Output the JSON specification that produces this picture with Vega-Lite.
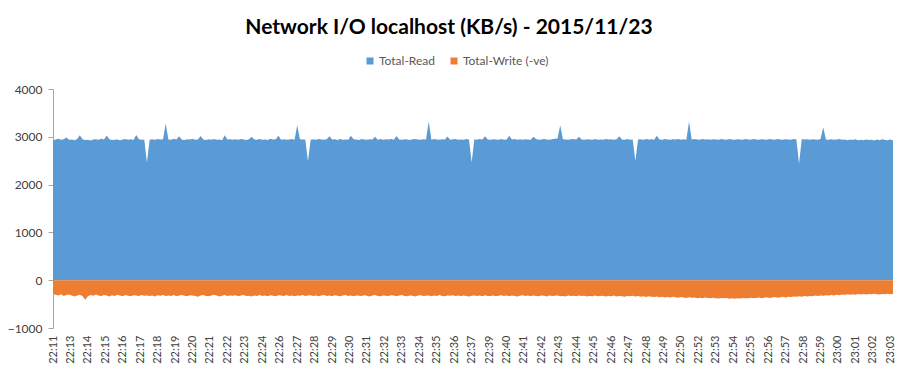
{
  "$schema": "https://vega.github.io/schema/vega-lite/v6.json",
  "width": 840,
  "height": 239,
  "autosize": {"type": "none"},
  "padding": {"left": 53, "top": 89, "right": 18, "bottom": 52},
  "background": "white",
  "config": {"view": {"stroke": null}, "font": "Lato"},
  "title": {"text": "Network I/O localhost (KB/s) - 2015/11/23", "anchor": "middle", "frame": "group", "dx": -24, "offset": 17, "fontSize": 21, "font": "Lato", "fontWeight": "bold", "color": "#000000"},
  "data": {
    "format": {"parse": {"t": "date:'%H:%M:%S'"}},
    "values": [
      {"t":"22:11:57","r":2930,"w":-290},
      {"t":"22:12:07","r":2945,"w":-305},{"t":"22:12:17","r":2960,"w":-318},{"t":"22:12:27","r":2940,"w":-296},{"t":"22:12:37","r":2950,"w":-330},{"t":"22:12:47","r":2985,"w":-312},{"t":"22:12:57","r":2938,"w":-300},
      {"t":"22:13:07","r":2942,"w":-322},{"t":"22:13:17","r":2930,"w":-340},{"t":"22:13:27","r":2955,"w":-318},{"t":"22:13:37","r":3030,"w":-305},{"t":"22:13:47","r":2948,"w":-330},{"t":"22:13:57","r":2935,"w":-410},
      {"t":"22:14:07","r":2940,"w":-335},{"t":"22:14:17","r":2925,"w":-312},{"t":"22:14:27","r":2945,"w":-325},{"t":"22:14:37","r":2950,"w":-300},{"t":"22:14:47","r":2938,"w":-318},{"t":"22:14:57","r":2960,"w":-330},
      {"t":"22:15:07","r":2944,"w":-308},{"t":"22:15:17","r":3025,"w":-322},{"t":"22:15:27","r":2950,"w":-340},{"t":"22:15:37","r":2932,"w":-316},{"t":"22:15:47","r":2940,"w":-328},{"t":"22:15:57","r":2946,"w":-305},
      {"t":"22:16:07","r":2930,"w":-320},{"t":"22:16:17","r":2942,"w":-335},{"t":"22:16:27","r":2955,"w":-310},{"t":"22:16:37","r":2938,"w":-326},{"t":"22:16:47","r":2948,"w":-338},{"t":"22:16:57","r":2935,"w":-315},
      {"t":"22:17:07","r":3040,"w":-322},{"t":"22:17:17","r":2950,"w":-330},{"t":"22:17:27","r":2938,"w":-308},{"t":"22:17:37","r":2945,"w":-325},{"t":"22:17:47","r":2460,"w":-318},{"t":"22:17:57","r":2940,"w":-330},
      {"t":"22:18:07","r":2948,"w":-322},{"t":"22:18:17","r":2936,"w":-340},{"t":"22:18:27","r":2955,"w":-315},{"t":"22:18:37","r":2942,"w":-326},{"t":"22:18:47","r":2950,"w":-310},{"t":"22:18:57","r":3280,"w":-332},
      {"t":"22:19:07","r":2945,"w":-318},{"t":"22:19:17","r":2938,"w":-328},{"t":"22:19:27","r":2960,"w":-312},{"t":"22:19:37","r":2944,"w":-335},{"t":"22:19:47","r":3010,"w":-320},{"t":"22:19:57","r":2940,"w":-308},
      {"t":"22:20:07","r":2935,"w":-325},{"t":"22:20:17","r":2950,"w":-338},{"t":"22:20:27","r":2942,"w":-315},{"t":"22:20:37","r":2958,"w":-322},{"t":"22:20:47","r":2938,"w":-330},{"t":"22:20:57","r":2946,"w":-345},
      {"t":"22:21:07","r":3015,"w":-318},{"t":"22:21:17","r":2944,"w":-310},{"t":"22:21:27","r":2932,"w":-328},{"t":"22:21:37","r":2948,"w":-336},{"t":"22:21:47","r":2940,"w":-320},{"t":"22:21:57","r":2955,"w":-305},
      {"t":"22:22:07","r":2938,"w":-322},{"t":"22:22:17","r":2945,"w":-340},{"t":"22:22:27","r":2930,"w":-325},{"t":"22:22:37","r":3030,"w":-312},{"t":"22:22:47","r":2942,"w":-330},{"t":"22:22:57","r":2950,"w":-318},
      {"t":"22:23:07","r":2936,"w":-326},{"t":"22:23:17","r":2948,"w":-315},{"t":"22:23:27","r":2940,"w":-338},{"t":"22:23:37","r":2955,"w":-322},{"t":"22:23:47","r":2944,"w":-310},{"t":"22:23:57","r":2932,"w":-330},
      {"t":"22:24:07","r":2950,"w":-325},{"t":"22:24:17","r":3000,"w":-340},{"t":"22:24:27","r":2945,"w":-318},{"t":"22:24:37","r":2938,"w":-332},{"t":"22:24:47","r":2952,"w":-312},{"t":"22:24:57","r":2940,"w":-328},
      {"t":"22:25:07","r":2946,"w":-320},{"t":"22:25:17","r":2935,"w":-335},{"t":"22:25:27","r":2958,"w":-316},{"t":"22:25:37","r":2942,"w":-326},{"t":"22:25:47","r":2950,"w":-338},{"t":"22:25:57","r":3020,"w":-315},
      {"t":"22:26:07","r":2940,"w":-322},{"t":"22:26:17","r":2948,"w":-330},{"t":"22:26:27","r":2936,"w":-310},{"t":"22:26:37","r":2944,"w":-328},{"t":"22:26:47","r":2955,"w":-320},{"t":"22:26:57","r":2938,"w":-336},
      {"t":"22:27:07","r":3240,"w":-318},{"t":"22:27:17","r":2950,"w":-326},{"t":"22:27:27","r":2942,"w":-312},{"t":"22:27:37","r":2946,"w":-330},{"t":"22:27:47","r":2490,"w":-322},{"t":"22:27:57","r":2940,"w":-315},
      {"t":"22:28:07","r":2948,"w":-330},{"t":"22:28:17","r":2936,"w":-318},{"t":"22:28:27","r":2955,"w":-336},{"t":"22:28:37","r":2944,"w":-322},{"t":"22:28:47","r":2938,"w":-310},{"t":"22:28:57","r":2950,"w":-328},
      {"t":"22:29:07","r":3010,"w":-320},{"t":"22:29:17","r":2942,"w":-334},{"t":"22:29:27","r":2948,"w":-316},{"t":"22:29:37","r":2935,"w":-326},{"t":"22:29:47","r":2956,"w":-338},{"t":"22:29:57","r":2940,"w":-320},
      {"t":"22:30:07","r":2946,"w":-312},{"t":"22:30:17","r":2938,"w":-328},{"t":"22:30:27","r":3020,"w":-322},{"t":"22:30:37","r":2950,"w":-336},{"t":"22:30:47","r":2942,"w":-318},{"t":"22:30:57","r":2934,"w":-326},
      {"t":"22:31:07","r":2955,"w":-330},{"t":"22:31:17","r":2944,"w":-315},{"t":"22:31:27","r":2938,"w":-325},{"t":"22:31:37","r":2950,"w":-340},{"t":"22:31:47","r":2945,"w":-320},{"t":"22:31:57","r":3000,"w":-312},
      {"t":"22:32:07","r":2940,"w":-328},{"t":"22:32:17","r":2952,"w":-336},{"t":"22:32:27","r":2936,"w":-318},{"t":"22:32:37","r":2948,"w":-326},{"t":"22:32:47","r":2942,"w":-332},{"t":"22:32:57","r":2955,"w":-315},
      {"t":"22:33:07","r":2938,"w":-322},{"t":"22:33:17","r":3015,"w":-338},{"t":"22:33:27","r":2946,"w":-320},{"t":"22:33:37","r":2940,"w":-310},{"t":"22:33:47","r":2950,"w":-328},{"t":"22:33:57","r":2944,"w":-335},
      {"t":"22:34:07","r":2935,"w":-318},{"t":"22:34:17","r":2948,"w":-326},{"t":"22:34:27","r":2956,"w":-340},{"t":"22:34:37","r":2942,"w":-322},{"t":"22:34:47","r":2938,"w":-315},{"t":"22:34:57","r":2950,"w":-330},
      {"t":"22:35:07","r":2945,"w":-325},{"t":"22:35:17","r":3320,"w":-318},{"t":"22:35:27","r":2940,"w":-336},{"t":"22:35:37","r":2952,"w":-322},{"t":"22:35:47","r":2946,"w":-330},{"t":"22:35:57","r":2938,"w":-312},
      {"t":"22:36:07","r":2950,"w":-328},{"t":"22:36:17","r":2942,"w":-338},{"t":"22:36:27","r":3005,"w":-320},{"t":"22:36:37","r":2936,"w":-326},{"t":"22:36:47","r":2948,"w":-315},{"t":"22:36:57","r":2955,"w":-332},
      {"t":"22:37:07","r":2940,"w":-322},{"t":"22:37:17","r":2946,"w":-336},{"t":"22:37:27","r":2938,"w":-318},{"t":"22:37:37","r":2952,"w":-328},{"t":"22:37:47","r":2944,"w":-340},{"t":"22:37:57","r":2470,"w":-325},
      {"t":"22:38:07","r":2948,"w":-318},{"t":"22:38:17","r":2938,"w":-330},{"t":"22:38:27","r":2955,"w":-322},{"t":"22:38:37","r":2942,"w":-336},{"t":"22:38:47","r":3010,"w":-315},{"t":"22:38:57","r":2946,"w":-328},
      {"t":"22:39:07","r":2936,"w":-332},{"t":"22:39:17","r":2950,"w":-320},{"t":"22:39:27","r":2944,"w":-338},{"t":"22:39:37","r":2940,"w":-326},{"t":"22:39:47","r":2952,"w":-315},{"t":"22:39:57","r":2938,"w":-330},
      {"t":"22:40:07","r":2946,"w":-322},{"t":"22:40:17","r":3020,"w":-334},{"t":"22:40:27","r":2942,"w":-318},{"t":"22:40:37","r":2955,"w":-328},{"t":"22:40:47","r":2940,"w":-340},{"t":"22:40:57","r":2948,"w":-325},
      {"t":"22:41:07","r":2936,"w":-316},{"t":"22:41:17","r":2950,"w":-330},{"t":"22:41:27","r":2944,"w":-322},{"t":"22:41:37","r":2938,"w":-336},{"t":"22:41:47","r":3000,"w":-320},{"t":"22:41:57","r":2952,"w":-328},
      {"t":"22:42:07","r":2940,"w":-335},{"t":"22:42:17","r":2946,"w":-318},{"t":"22:42:27","r":2955,"w":-326},{"t":"22:42:37","r":2942,"w":-340},{"t":"22:42:47","r":2938,"w":-322},{"t":"22:42:57","r":2950,"w":-332},
      {"t":"22:43:07","r":2960,"w":-325},{"t":"22:43:17","r":2965,"w":-318},{"t":"22:43:27","r":3240,"w":-336},{"t":"22:43:37","r":2950,"w":-328},{"t":"22:43:47","r":2944,"w":-340},{"t":"22:43:57","r":2938,"w":-322},
      {"t":"22:44:07","r":2948,"w":-330},{"t":"22:44:17","r":2955,"w":-326},{"t":"22:44:27","r":2942,"w":-338},{"t":"22:44:37","r":3000,"w":-320},{"t":"22:44:47","r":2946,"w":-332},{"t":"22:44:57","r":2938,"w":-325},
      {"t":"22:45:07","r":2950,"w":-340},{"t":"22:45:17","r":2944,"w":-328},{"t":"22:45:27","r":2936,"w":-335},{"t":"22:45:37","r":2952,"w":-322},{"t":"22:45:47","r":2940,"w":-338},{"t":"22:45:57","r":2946,"w":-330},
      {"t":"22:46:07","r":2938,"w":-325},{"t":"22:46:17","r":2955,"w":-342},{"t":"22:46:27","r":2942,"w":-330},{"t":"22:46:37","r":2948,"w":-336},{"t":"22:46:47","r":2936,"w":-322},{"t":"22:46:57","r":2950,"w":-340},
      {"t":"22:47:07","r":3010,"w":-328},{"t":"22:47:17","r":2944,"w":-335},{"t":"22:47:27","r":2940,"w":-345},{"t":"22:47:37","r":2952,"w":-330},{"t":"22:47:47","r":2938,"w":-338},{"t":"22:47:57","r":2946,"w":-326},
      {"t":"22:48:07","r":2500,"w":-340},{"t":"22:48:17","r":2942,"w":-332},{"t":"22:48:27","r":2950,"w":-345},{"t":"22:48:37","r":2936,"w":-336},{"t":"22:48:47","r":2955,"w":-350},{"t":"22:48:57","r":2944,"w":-338},
      {"t":"22:49:07","r":2948,"w":-345},{"t":"22:49:17","r":2938,"w":-352},{"t":"22:49:27","r":3020,"w":-340},{"t":"22:49:37","r":2946,"w":-355},{"t":"22:49:47","r":2940,"w":-348},{"t":"22:49:57","r":2952,"w":-360},
      {"t":"22:50:07","r":2944,"w":-350},{"t":"22:50:17","r":2936,"w":-362},{"t":"22:50:27","r":2950,"w":-345},{"t":"22:50:37","r":2942,"w":-358},{"t":"22:50:47","r":2955,"w":-366},{"t":"22:50:57","r":2940,"w":-352},
      {"t":"22:51:07","r":2948,"w":-360},{"t":"22:51:17","r":2938,"w":-372},{"t":"22:51:27","r":3320,"w":-355},{"t":"22:51:37","r":2946,"w":-368},{"t":"22:51:47","r":2952,"w":-360},{"t":"22:51:57","r":2944,"w":-375},
      {"t":"22:52:07","r":2940,"w":-365},{"t":"22:52:17","r":2955,"w":-378},{"t":"22:52:27","r":2942,"w":-360},{"t":"22:52:37","r":2950,"w":-372},{"t":"22:52:47","r":2936,"w":-380},{"t":"22:52:57","r":2948,"w":-368},
      {"t":"22:53:07","r":2944,"w":-375},{"t":"22:53:17","r":2938,"w":-385},{"t":"22:53:27","r":2952,"w":-370},{"t":"22:53:37","r":2946,"w":-380},{"t":"22:53:47","r":2940,"w":-372},{"t":"22:53:57","r":2955,"w":-386},
      {"t":"22:54:07","r":2942,"w":-378},{"t":"22:54:17","r":2936,"w":-390},{"t":"22:54:27","r":2950,"w":-375},{"t":"22:54:37","r":2944,"w":-384},{"t":"22:54:47","r":2938,"w":-372},{"t":"22:54:57","r":2952,"w":-380},
      {"t":"22:55:07","r":2946,"w":-376},{"t":"22:55:17","r":2940,"w":-368},{"t":"22:55:27","r":2955,"w":-380},{"t":"22:55:37","r":2942,"w":-372},{"t":"22:55:47","r":2936,"w":-362},{"t":"22:55:57","r":2950,"w":-375},
      {"t":"22:56:07","r":2944,"w":-366},{"t":"22:56:17","r":2938,"w":-358},{"t":"22:56:27","r":2952,"w":-370},{"t":"22:56:37","r":2946,"w":-360},{"t":"22:56:47","r":2940,"w":-352},{"t":"22:56:57","r":2955,"w":-365},
      {"t":"22:57:07","r":2942,"w":-355},{"t":"22:57:17","r":2936,"w":-348},{"t":"22:57:27","r":2950,"w":-360},{"t":"22:57:37","r":2944,"w":-345},{"t":"22:57:47","r":2938,"w":-352},{"t":"22:57:57","r":2952,"w":-340},
      {"t":"22:58:07","r":2946,"w":-348},{"t":"22:58:17","r":2440,"w":-336},{"t":"22:58:27","r":2955,"w":-345},{"t":"22:58:37","r":2942,"w":-332},{"t":"22:58:47","r":2950,"w":-340},{"t":"22:58:57","r":2936,"w":-328},
      {"t":"22:59:07","r":2948,"w":-336},{"t":"22:59:17","r":2944,"w":-322},{"t":"22:59:27","r":2938,"w":-330},{"t":"22:59:37","r":2952,"w":-318},{"t":"22:59:47","r":3200,"w":-326},{"t":"22:59:57","r":2946,"w":-314},
      {"t":"23:00:07","r":2940,"w":-322},{"t":"23:00:17","r":2950,"w":-310},{"t":"23:00:27","r":2936,"w":-318},{"t":"23:00:37","r":2944,"w":-305},{"t":"23:00:47","r":2952,"w":-315},{"t":"23:00:57","r":2938,"w":-300},
      {"t":"23:01:07","r":2946,"w":-308},{"t":"23:01:17","r":2930,"w":-296},{"t":"23:01:27","r":2942,"w":-305},{"t":"23:01:37","r":2935,"w":-292},{"t":"23:01:47","r":2948,"w":-302},{"t":"23:01:57","r":2930,"w":-290},
      {"t":"23:02:07","r":2940,"w":-298},{"t":"23:02:17","r":2926,"w":-288},{"t":"23:02:27","r":2945,"w":-300},{"t":"23:02:37","r":2932,"w":-290},{"t":"23:02:47","r":2938,"w":-296},{"t":"23:02:57","r":2925,"w":-285},
      {"t":"23:03:07","r":2942,"w":-292},{"t":"23:03:17","r":2928,"w":-298},{"t":"23:03:27","r":2950,"w":-288},{"t":"23:03:37","r":2935,"w":-295},{"t":"23:03:47","r":2930,"w":-286},{"t":"23:03:57","r":2944,"w":-292},
      {"t":"23:04:07","r":2920,"w":-290}
    ]
  },
  "encoding": {
    "x": {
      "field": "t",
      "type": "temporal",
      "scale": {"nice": false},
      "axis": {
        "title": null,
        "format": "%H:%M",
        "labelAngle": 270,
        "labelAlign": "right",
        "labelBaseline": "middle",
        "labelFont": "Lato",
        "labelFontSize": 11,
        "labelColor": "#404040",
        "labelPadding": 7,
        "labelOverlap": false,
        "labelFlush": false,
        "domain": false,
        "ticks": false,
        "grid": false,
        "values": [
          {"year":1900,"month":1,"date":1,"hours":22,"minutes":11,"seconds":57},
          {"year":1900,"month":1,"date":1,"hours":22,"minutes":13,"seconds":2},
          {"year":1900,"month":1,"date":1,"hours":22,"minutes":14,"seconds":7},
          {"year":1900,"month":1,"date":1,"hours":22,"minutes":15,"seconds":12},
          {"year":1900,"month":1,"date":1,"hours":22,"minutes":16,"seconds":17},
          {"year":1900,"month":1,"date":1,"hours":22,"minutes":17,"seconds":22},
          {"year":1900,"month":1,"date":1,"hours":22,"minutes":18,"seconds":27},
          {"year":1900,"month":1,"date":1,"hours":22,"minutes":19,"seconds":32},
          {"year":1900,"month":1,"date":1,"hours":22,"minutes":20,"seconds":37},
          {"year":1900,"month":1,"date":1,"hours":22,"minutes":21,"seconds":42},
          {"year":1900,"month":1,"date":1,"hours":22,"minutes":22,"seconds":47},
          {"year":1900,"month":1,"date":1,"hours":22,"minutes":23,"seconds":52},
          {"year":1900,"month":1,"date":1,"hours":22,"minutes":24,"seconds":57},
          {"year":1900,"month":1,"date":1,"hours":22,"minutes":26,"seconds":2},
          {"year":1900,"month":1,"date":1,"hours":22,"minutes":27,"seconds":7},
          {"year":1900,"month":1,"date":1,"hours":22,"minutes":28,"seconds":12},
          {"year":1900,"month":1,"date":1,"hours":22,"minutes":29,"seconds":17},
          {"year":1900,"month":1,"date":1,"hours":22,"minutes":30,"seconds":22},
          {"year":1900,"month":1,"date":1,"hours":22,"minutes":31,"seconds":27},
          {"year":1900,"month":1,"date":1,"hours":22,"minutes":32,"seconds":32},
          {"year":1900,"month":1,"date":1,"hours":22,"minutes":33,"seconds":37},
          {"year":1900,"month":1,"date":1,"hours":22,"minutes":34,"seconds":42},
          {"year":1900,"month":1,"date":1,"hours":22,"minutes":35,"seconds":47},
          {"year":1900,"month":1,"date":1,"hours":22,"minutes":36,"seconds":52},
          {"year":1900,"month":1,"date":1,"hours":22,"minutes":37,"seconds":57},
          {"year":1900,"month":1,"date":1,"hours":22,"minutes":39,"seconds":2},
          {"year":1900,"month":1,"date":1,"hours":22,"minutes":40,"seconds":7},
          {"year":1900,"month":1,"date":1,"hours":22,"minutes":41,"seconds":12},
          {"year":1900,"month":1,"date":1,"hours":22,"minutes":42,"seconds":17},
          {"year":1900,"month":1,"date":1,"hours":22,"minutes":43,"seconds":22},
          {"year":1900,"month":1,"date":1,"hours":22,"minutes":44,"seconds":27},
          {"year":1900,"month":1,"date":1,"hours":22,"minutes":45,"seconds":32},
          {"year":1900,"month":1,"date":1,"hours":22,"minutes":46,"seconds":37},
          {"year":1900,"month":1,"date":1,"hours":22,"minutes":47,"seconds":42},
          {"year":1900,"month":1,"date":1,"hours":22,"minutes":48,"seconds":47},
          {"year":1900,"month":1,"date":1,"hours":22,"minutes":49,"seconds":52},
          {"year":1900,"month":1,"date":1,"hours":22,"minutes":50,"seconds":57},
          {"year":1900,"month":1,"date":1,"hours":22,"minutes":52,"seconds":2},
          {"year":1900,"month":1,"date":1,"hours":22,"minutes":53,"seconds":7},
          {"year":1900,"month":1,"date":1,"hours":22,"minutes":54,"seconds":12},
          {"year":1900,"month":1,"date":1,"hours":22,"minutes":55,"seconds":17},
          {"year":1900,"month":1,"date":1,"hours":22,"minutes":56,"seconds":22},
          {"year":1900,"month":1,"date":1,"hours":22,"minutes":57,"seconds":27},
          {"year":1900,"month":1,"date":1,"hours":22,"minutes":58,"seconds":32},
          {"year":1900,"month":1,"date":1,"hours":22,"minutes":59,"seconds":37},
          {"year":1900,"month":1,"date":1,"hours":23,"minutes":0,"seconds":42},
          {"year":1900,"month":1,"date":1,"hours":23,"minutes":1,"seconds":47},
          {"year":1900,"month":1,"date":1,"hours":23,"minutes":2,"seconds":52},
          {"year":1900,"month":1,"date":1,"hours":23,"minutes":3,"seconds":57}
        ]
      }
    }
  },
  "layer": [
    {
      "mark": {"type": "area", "interpolate": "linear"},
      "encoding": {
        "y": {
          "field": "r",
          "type": "quantitative",
          "stack": null,
          "scale": {"domain": [-1000, 4000], "nice": false, "zero": true},
          "axis": {
            "title": null,
            "format": "d",
            "values": [-1000, -500, 0, 500, 1000, 1500, 2000, 2500, 3000, 3500, 4000],
            "grid": false,
            "domainColor": "#A6A6A6",
            "tickColor": "#A6A6A6",
            "tickSize": 5,
            "labelFont": "Lato",
            "labelFontSize": 12,
            "labelColor": "#404040",
            "labelPadding": 6,
            "labelFlush": false
          }
        },
        "color": {
          "datum": "Total-Read",
          "type": "nominal",
          "scale": {"domain": ["Total-Read", "Total-Write (-ve)"], "range": ["#5B9BD5", "#ED7D31"]},
          "legend": {
            "title": null,
            "orient": "none",
            "direction": "horizontal",
            "legendX": 311,
            "legendY": -34,
            "symbolType": "square",
            "symbolSize": 49,
            "symbolStrokeWidth": 0,
            "labelFont": "Lato",
            "labelFontSize": 12,
            "labelColor": "#595959",
            "labelOffset": 3,
            "columnPadding": 12
          }
        }
      }
    },
    {
      "mark": {"type": "area", "interpolate": "linear"},
      "encoding": {
        "y": {"field": "w", "type": "quantitative", "stack": null},
        "color": {"datum": "Total-Write (-ve)", "type": "nominal"}
      }
    }
  ]
}
